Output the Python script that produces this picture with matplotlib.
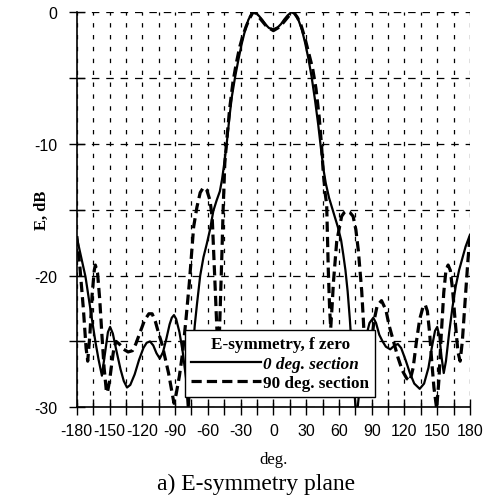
import matplotlib
matplotlib.use("Agg")
import matplotlib.pyplot as plt

# ---- data ----
ang_0deg = [-180, -176, -172, -168, -163, -160, -157, -154, -151.5, -149.5, -147, -144, -140, -137,
            -134, -131, -127, -123, -119, -116, -113, -110, -107, -104, -101, -98, -95, -93, -91,
            -89, -86, -83, -80, -78, -75, -72, -70, -67, -64, -61, -58, -55, -52, -49, -47, -45,
            -43, -40, -38, -35, -32, -29, -26, -23, -20, -18, -16, -13, -10, -7, -4, 0, 4, 7, 10,
            13, 16, 18, 20, 23, 26, 29, 32, 35, 38, 41, 43.5, 46, 48, 51, 55, 59, 62, 64, 66, 68,
            70, 72, 74, 76, 79, 82, 85, 88, 91.5, 94, 97, 100, 103, 107, 111, 114, 117, 121, 125,
            129, 134, 138, 142, 145, 148, 150, 152, 154, 156, 158, 161, 164, 167, 170, 173, 176, 180]
e_0deg = [-17.1, -18.6, -20.1, -22.3, -25.0, -26.4, -27.6, -25.8, -24.3, -23.9, -24.4, -25.6, -27.1, -28.0,
          -28.5, -28.3, -27.5, -26.4, -25.5, -25.1, -25.0, -25.3, -25.9, -26.3, -25.8, -24.8, -23.7, -23.2, -23.0,
          -23.3, -24.3, -25.8, -27.8, -30.5, -27.0, -23.8, -22.2, -20.0, -18.6, -17.6, -16.5, -15.1, -14.3, -13.6, -12.7, -11.5,
          -10.2, -7.8, -6.4, -4.9, -3.6, -2.4, -1.4, -0.6, -0.1, 0.0, -0.05, -0.3, -0.6, -0.95, -1.2, -1.3, -1.15, -0.9, -0.55,
          -0.25, -0.03, 0.0, -0.15, -0.6, -1.3, -2.3, -3.5, -4.9, -6.6, -8.5, -10.3, -12.0, -13.0, -14.1, -15.2, -16.3, -17.3, -18.4, -19.6, -21.2,
          -23.3, -25.8, -28.5, -31.0, -28.5, -26.0, -24.6, -23.6, -23.2, -23.6, -24.5, -25.0, -25.4, -25.6, -25.3, -25.2, -25.5, -26.4, -27.4,
          -28.2, -28.6, -28.2, -27.0, -25.5, -24.2, -23.9, -24.6, -26.2, -27.4, -26.5, -24.3, -22.4, -20.8, -19.6, -18.7, -17.8, -16.9]

ang_90deg = [-180, -177, -174, -171.5, -170, -168, -166, -164, -163, -161, -159, -157, -155, -153, -152,
             -150, -148, -146, -144, -141, -137, -133, -129, -126, -122, -118, -114, -111, -108, -105,
             -102, -99, -96, -93, -91, -89, -86, -83, -80, -77, -75, -73, -70, -67, -64, -61, -58, -56,
             -54.5, -53, -51.5, -50, -48.5, -47, -46, -44.5, -43, -40, -37, -34, -31, -28, -25, -22, -19,
             -17, -14, -10, -6, 0, 6, 10, 14, 17, 19, 22, 25, 29, 33, 36, 39, 42, 44, 45.7, 47.5, 48.8,
             49.5, 50.3, 51.5, 52.5, 54, 55, 58, 62.5, 65, 67, 70, 73, 75.5, 77.8, 80.9, 82.4, 84, 85.5,
             87, 89, 92, 95, 99, 103, 106, 110, 114, 118, 122, 125, 128, 131, 134, 137, 139, 141, 143,
             145, 147, 149.5, 151.5, 153.5, 156, 158, 160, 162, 164, 166.5, 169, 171, 173, 175.5, 178, 180]
e_90deg = [-17.0, -19.5, -22.5, -25.5, -26.5, -24.5, -21.5, -19.6, -19.2, -19.8, -21.8, -24.5, -27.0, -28.7, -28.9,
           -28.0, -26.7, -25.5, -25.0, -25.2, -25.6, -25.8, -25.7, -25.2, -24.3, -23.4, -22.9, -22.9, -23.5, -24.4,
           -25.2, -26.3, -27.4, -28.8, -29.7, -29.0, -27.6, -25.8, -23.3, -20.6, -18.4, -16.3, -14.8, -13.7, -13.3, -13.5, -14.3, -15.6,
           -18.5, -21.5, -24.5, -26.0, -22.0, -18.0, -15.0, -11.5, -10.0, -7.3, -5.3, -3.9, -2.7, -1.8, -1.1, -0.5, -0.05,
           0.0, -0.3, -0.7, -1.1, -1.4, -1.1, -0.7, -0.3, 0.0, -0.05, -0.4, -0.9, -2.0, -3.3, -4.3, -5.8, -8.0, -10.0, -12.2, -13.8, -14.6,
           -17.0, -19.6, -22.5, -24.0, -22.0, -20.5, -17.4, -15.5, -15.2, -15.1, -15.2, -15.5, -16.5, -18.1, -21.2, -23.4, -26.0, -27.8,
           -27.5, -25.8, -23.5, -22.3, -21.9, -22.6, -23.8, -25.0, -26.2, -27.2, -27.8, -28.0, -27.0, -25.0, -23.3, -22.4, -22.2, -22.7, -24.3,
           -26.5, -28.5, -30.1, -28.0, -24.8, -21.3, -19.6, -19.2, -19.6, -21.0, -23.5, -25.8, -26.5, -25.0, -22.0, -19.0, -17.0]

x_ticks = list(range(-180, 181, 15))
x_ticklabels = [str(v) if v % 30 == 0 else "" for v in x_ticks]
y_ticks = list(range(-30, 1, 5))
y_ticklabels = [str(v) if v % 10 == 0 else "" for v in y_ticks]

legend_title = "E-symmetry, f zero"
label_0 = "0 deg. section"
label_90 = "90 deg. section"
x_label = "deg."
y_label = "E, dB"
caption = "a) E-symmetry plane"

# ---- figure ----
fig = plt.figure(figsize=(4.86, 5.02), dpi=100)
ax = fig.add_axes([0.158, 0.1867, 0.809, 0.787])

l0, = ax.plot(ang_0deg, e_0deg, color="black", lw=1.6, solid_joinstyle="round", zorder=3)
l90, = ax.plot(ang_90deg, e_90deg, color="black", lw=2.3, linestyle=(0, (3.2, 1.6)), zorder=3)

ax.set_xlim(-180, 180)
ax.set_ylim(-30, 0)
ax.set_xticks(x_ticks)
ax.set_xticklabels(x_ticklabels, family="Liberation Sans", fontsize=11.5)
ax.set_yticks(y_ticks)
ax.set_yticklabels(y_ticklabels, family="Liberation Sans", fontsize=11.5)
ax.tick_params(axis="x", direction="inout", length=11, width=1, pad=5.5, color="black")
ax.tick_params(axis="y", direction="inout", length=11, width=1, pad=8.5, color="black")

ax.xaxis.grid(True, color="black", lw=0.9, linestyle=(0, (3.5, 6)))
ax.yaxis.grid(True, color="black", lw=0.9, linestyle=(0, (6, 5.5)))
ax.set_axisbelow(True)

for s in ("top", "right"):
    ax.spines[s].set_visible(False)
for s in ("left", "bottom"):
    ax.spines[s].set_linewidth(1.2)
    ax.spines[s].set_zorder(4)

ax.set_xlabel(x_label, family="Liberation Serif", fontsize=12)
ax.xaxis.set_label_coords(0.5, -0.131)
ax.xaxis.label.set_va("center")
ax.set_ylabel(y_label, family="Liberation Serif", fontsize=12, fontweight="bold")
ax.yaxis.set_label_coords(-0.088, 0.5)
ax.yaxis.label.set_va("center")

leg = ax.legend([l0, l90], [label_0, label_90], title=legend_title,
                loc="lower left", bbox_to_anchor=(0.275, 0.026),
                frameon=True, fancybox=False, framealpha=1, edgecolor="black",
                prop={"family": "Liberation Serif", "weight": "bold", "size": 12.3},
                borderpad=0.35, labelspacing=0.2, handlelength=4.1, handletextpad=0.15,
                borderaxespad=0)
leg.get_frame().set_linewidth(1.0)
leg.set_zorder(5)
tt = leg.get_title()
tt.set_fontfamily("Liberation Serif")
tt.set_fontweight("bold")
tt.set_fontsize(12.3)
texts = leg.get_texts()
texts[0].set_fontstyle("italic")

fig.text(256 / 486, 1 - 484 / 502, caption, family="Liberation Serif", fontsize=17,
         ha="center", va="center")

fig.savefig("out.png", dpi=100)
